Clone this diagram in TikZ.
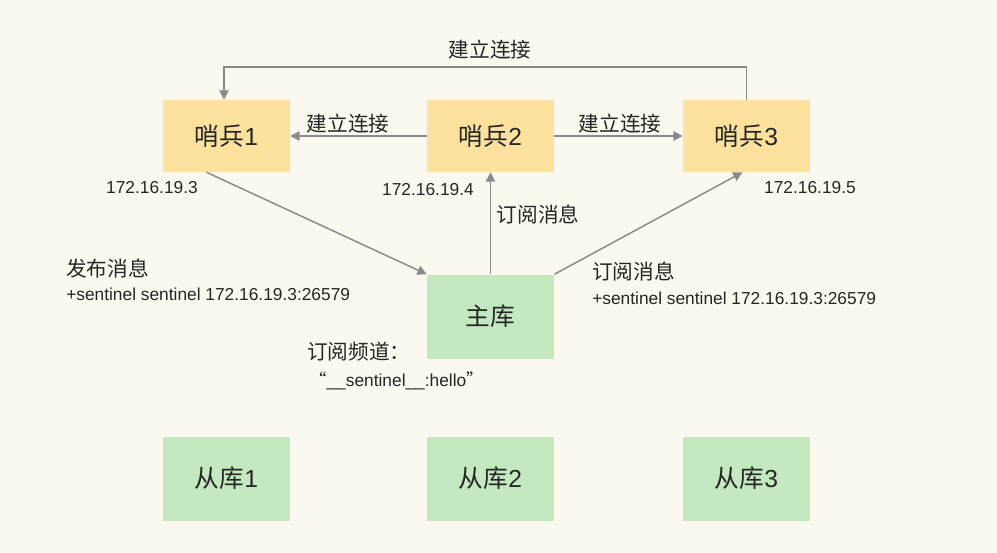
\documentclass[tikz,border=0pt]{standalone}
\usepackage{fontspec}
\setmainfont{Liberation Sans}
\newfontfamily\cjk{Noto Sans CJK SC}
\usetikzlibrary{arrows.meta}
\definecolor{bg}{HTML}{FBF8EF}
\definecolor{yel}{HTML}{FCE29C}
\definecolor{grn}{HTML}{C4E9C0}
\definecolor{ln}{HTML}{8A8A8A}
\newcommand{\zh}[1]{{\cjk #1}}
\begin{document}
\begin{tikzpicture}[x=0.75pt,y=-0.75pt,
  box/.style={minimum width=95.25pt,minimum height=54pt,inner sep=0pt,font=\fontsize{18.5}{20}\selectfont,text=black!85},
  sen/.style={box,fill=yel},
  db/.style={box,fill=grn,minimum height=63pt},
  lbl/.style={font=\fontsize{13}{15}\selectfont,text=black!85,inner sep=0pt},
  zl/.style={lbl,font=\fontsize{15.5}{17}\cjk},
  arr/.style={draw=ln,line width=1.1pt,-{Triangle[length=7pt,width=7pt]}}]
\fill[bg] (0,0) rectangle (997,553);
\useasboundingbox (0,0) rectangle (997,553);
\node[sen] (s1) at (226.5,136) {\zh{哨兵}1};
\node[sen] (s2) at (490.5,136) {\zh{哨兵}2};
\node[sen] (s3) at (746.5,136) {\zh{哨兵}3};
\node[db] (m) at (490.5,316.5) {\zh{主库}};
\node[db] (r1) at (226.5,478.5) {\zh{从库}1};
\node[db] (r2) at (490.5,478.5) {\zh{从库}2};
\node[db] (r3) at (746.5,478.5) {\zh{从库}3};
\coordinate (c1) at (746.5,67);
\coordinate (c2) at (224,67);
\draw[arr] (s3.north) -- (c1) -- (c2) -- (s1.north -| c2);
\node[zl] (t0) at (490,50) {建立连接};
\draw[arr] (s2.west) -- (s1.east);
\node[zl] (t1) at (348,124) {建立连接};
\draw[arr] (s2.east) -- (s3.west);
\node[zl] (t2) at (620,124) {建立连接};
\draw[arr] ([xshift=-15pt]s1.south) -- (m.north west);
\draw[arr] (m.north) -- (s2.south);
\node[zl] (t3) at (538,215) {订阅消息};
\draw[arr] ([xshift=48pt]m.north) -- ([xshift=-3pt]s3.south);
\node[lbl] (ip1) at (152,188) {172.16.19.3};
\node[lbl] (ip2) at (428,190) {172.16.19.4};
\node[lbl] (ip3) at (810,188) {172.16.19.5};
\node[zl,anchor=west] (p1) at (66,269) {发布消息};
\node[lbl,anchor=west] (p2) at (66,294) {+sentinel sentinel 172.16.19.3:26579};
\node[zl,anchor=west] (q1) at (592,272) {订阅消息};
\node[lbl,anchor=west] (q2) at (592,298) {+sentinel sentinel 172.16.19.3:26579};
\node[zl,anchor=west] (h1) at (307,352) {订阅频道：};
\node[lbl,anchor=west] (h2) at (309,381) {\zh{“}\_\_sentinel\_\_:hello\zh{”}};
\end{tikzpicture}
\end{document}
